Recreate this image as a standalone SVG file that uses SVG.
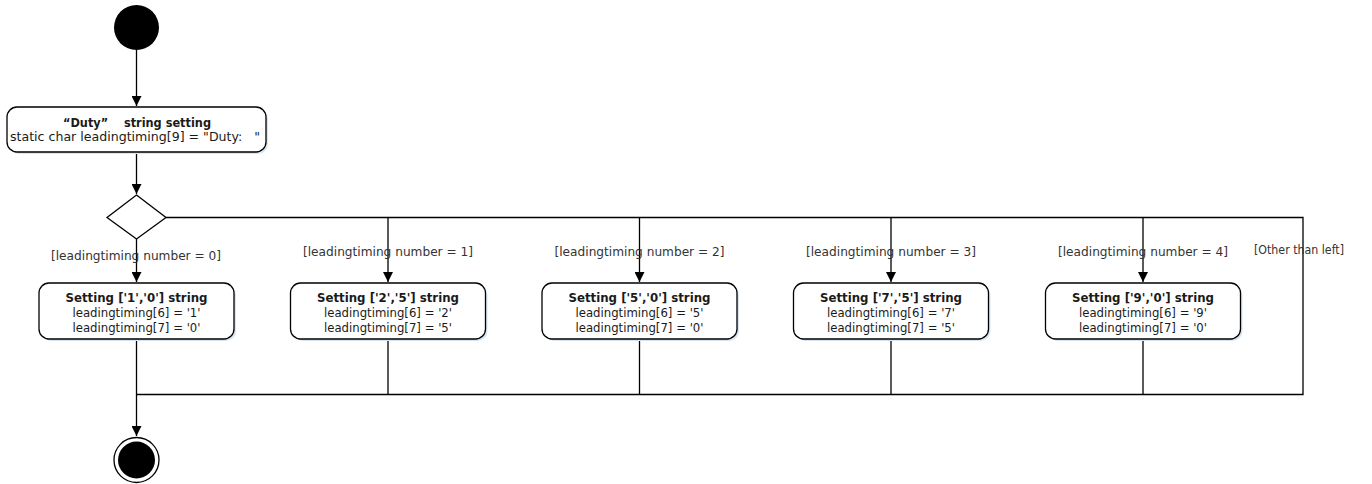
<svg xmlns="http://www.w3.org/2000/svg" width="1372" height="484" viewBox="0 0 1372 484">
<style>
.ln{stroke:#000;stroke-width:1.3;fill:none}
.box{fill:#fff;stroke:#000;stroke-width:1.3}
.shd{fill:#d6e6f5;stroke:none}
.t{font-family:"DejaVu Sans",Verdana,sans-serif;font-size:13px;fill:#1a1a1a;text-anchor:middle}
.b{font-weight:bold}
.lbl{font-family:"DejaVu Sans",Verdana,sans-serif;font-size:13px;fill:#333;text-anchor:middle}
</style>
<defs>
<marker id="ah" markerWidth="10" markerHeight="10" refX="10" refY="5" orient="auto" markerUnits="userSpaceOnUse">
<path d="M0,0 L10,5 L0,10 Z" fill="#000"/>
</marker>
</defs>
<g id="connectors">
<line class="ln" x1="136.5" y1="50" x2="136.5" y2="106" marker-end="url(#ah)"/>
<line class="ln" x1="136.5" y1="152" x2="136.5" y2="194" marker-end="url(#ah)"/>
<line class="ln" x1="136.5" y1="239" x2="136.5" y2="282" marker-end="url(#ah)"/>
<polyline class="ln" points="166,217.5 1303,217.5 1303,394.5 136.5,394.5"/>
<line class="ln" x1="388" y1="217.5" x2="388" y2="282" marker-end="url(#ah)"/>
<line class="ln" x1="639.5" y1="217.5" x2="639.5" y2="282" marker-end="url(#ah)"/>
<line class="ln" x1="891" y1="217.5" x2="891" y2="282" marker-end="url(#ah)"/>
<line class="ln" x1="1143" y1="217.5" x2="1143" y2="282" marker-end="url(#ah)"/>
<line class="ln" x1="388" y1="339" x2="388" y2="394.5"/>
<line class="ln" x1="639.5" y1="339" x2="639.5" y2="394.5"/>
<line class="ln" x1="891" y1="339" x2="891" y2="394.5"/>
<line class="ln" x1="1143" y1="339" x2="1143" y2="394.5"/>
<line class="ln" x1="136.5" y1="339" x2="136.5" y2="436" marker-end="url(#ah)"/>
<text class="lbl" x="136" y="260" textLength="170" lengthAdjust="spacingAndGlyphs">[leadingtiming number = 0]</text>
<text class="lbl" x="388" y="256" textLength="170" lengthAdjust="spacingAndGlyphs">[leadingtiming number = 1]</text>
<text class="lbl" x="639.5" y="256" textLength="170" lengthAdjust="spacingAndGlyphs">[leadingtiming number = 2]</text>
<text class="lbl" x="891" y="256" textLength="170" lengthAdjust="spacingAndGlyphs">[leadingtiming number = 3]</text>
<text class="lbl" x="1143" y="256" textLength="170" lengthAdjust="spacingAndGlyphs">[leadingtiming number = 4]</text>
<text class="lbl" x="1299" y="254" textLength="90" lengthAdjust="spacingAndGlyphs">[Other than left]</text>
</g>
<g id="start">
<circle cx="136.5" cy="27.5" r="22.5" fill="#000"/>
</g>
<g id="duty">
<rect class="shd" x="9" y="109" width="259" height="45" rx="10"/>
<rect class="box" x="7" y="107" width="259" height="45" rx="10"/>
<text class="t b" x="137" y="126.5" textLength="148" lengthAdjust="spacingAndGlyphs" xml:space="preserve">“Duty”    string setting</text>
<text class="t" x="135" y="141" textLength="250" lengthAdjust="spacingAndGlyphs" xml:space="preserve">static char leadingtiming[9] = "Duty:   "</text>
</g>
<g id="decision">
<polygon points="136.5,195 166,217.5 136.5,239 107,217.5" fill="#fff" stroke="#000" stroke-width="1.3"/>
</g>
<g id="set10">
<rect class="shd" x="41" y="285" width="195" height="56" rx="10"/>
<rect class="box" x="39" y="283" width="195" height="56" rx="10"/>
<text class="t b" x="136.5" y="301.5" textLength="142" lengthAdjust="spacingAndGlyphs">Setting ['1','0'] string</text>
<text class="t" x="136.5" y="316.5" textLength="128" lengthAdjust="spacingAndGlyphs">leadingtiming[6] = '1'</text>
<text class="t" x="136.5" y="331.5" textLength="128" lengthAdjust="spacingAndGlyphs">leadingtiming[7] = '0'</text>
</g>
<g id="set25">
<rect class="shd" x="292.5" y="285" width="195" height="56" rx="10"/>
<rect class="box" x="290.5" y="283" width="195" height="56" rx="10"/>
<text class="t b" x="388" y="301.5" textLength="142" lengthAdjust="spacingAndGlyphs">Setting ['2','5'] string</text>
<text class="t" x="388" y="316.5" textLength="128" lengthAdjust="spacingAndGlyphs">leadingtiming[6] = '2'</text>
<text class="t" x="388" y="331.5" textLength="128" lengthAdjust="spacingAndGlyphs">leadingtiming[7] = '5'</text>
</g>
<g id="set50">
<rect class="shd" x="544" y="285" width="195" height="56" rx="10"/>
<rect class="box" x="542" y="283" width="195" height="56" rx="10"/>
<text class="t b" x="639.5" y="301.5" textLength="142" lengthAdjust="spacingAndGlyphs">Setting ['5','0'] string</text>
<text class="t" x="639.5" y="316.5" textLength="128" lengthAdjust="spacingAndGlyphs">leadingtiming[6] = '5'</text>
<text class="t" x="639.5" y="331.5" textLength="128" lengthAdjust="spacingAndGlyphs">leadingtiming[7] = '0'</text>
</g>
<g id="set75">
<rect class="shd" x="795.5" y="285" width="195" height="56" rx="10"/>
<rect class="box" x="793.5" y="283" width="195" height="56" rx="10"/>
<text class="t b" x="891" y="301.5" textLength="142" lengthAdjust="spacingAndGlyphs">Setting ['7','5'] string</text>
<text class="t" x="891" y="316.5" textLength="128" lengthAdjust="spacingAndGlyphs">leadingtiming[6] = '7'</text>
<text class="t" x="891" y="331.5" textLength="128" lengthAdjust="spacingAndGlyphs">leadingtiming[7] = '5'</text>
</g>
<g id="set90">
<rect class="shd" x="1047.5" y="285" width="195" height="56" rx="10"/>
<rect class="box" x="1045.5" y="283" width="195" height="56" rx="10"/>
<text class="t b" x="1143" y="301.5" textLength="142" lengthAdjust="spacingAndGlyphs">Setting ['9','0'] string</text>
<text class="t" x="1143" y="316.5" textLength="128" lengthAdjust="spacingAndGlyphs">leadingtiming[6] = '9'</text>
<text class="t" x="1143" y="331.5" textLength="128" lengthAdjust="spacingAndGlyphs">leadingtiming[7] = '0'</text>
</g>
<g id="end">
<circle cx="136.5" cy="460" r="22.5" fill="#fff" stroke="#000" stroke-width="1.3"/>
<circle cx="136.5" cy="460" r="18.5" fill="#000"/>
</g>
</svg>
